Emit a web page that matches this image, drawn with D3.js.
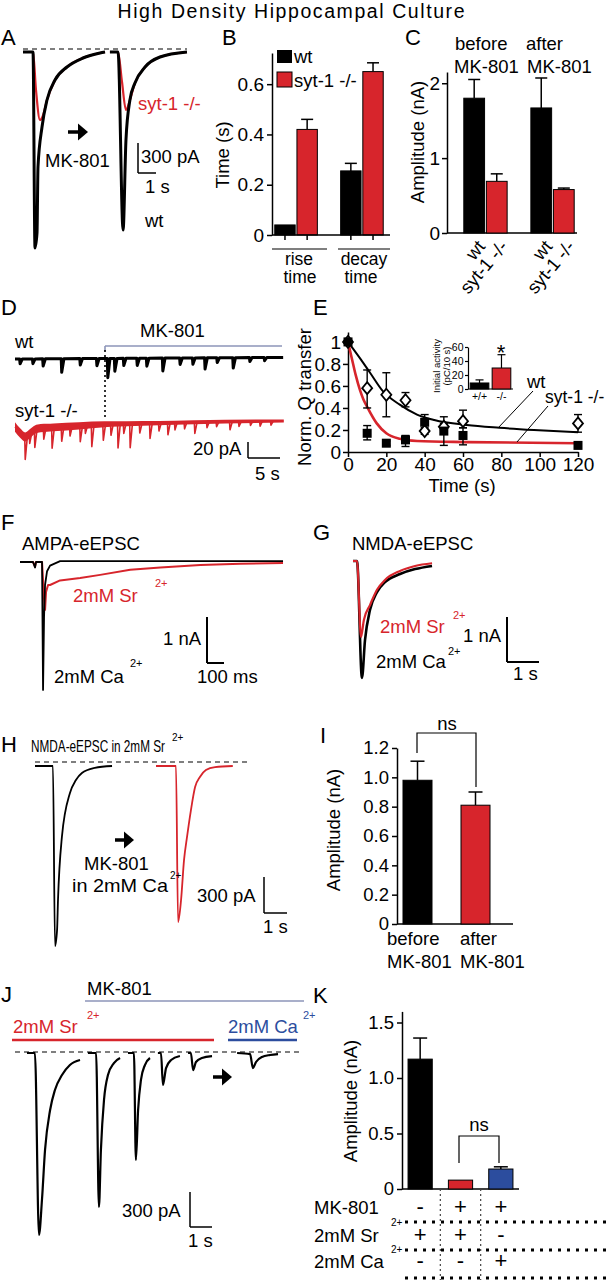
<!DOCTYPE html>
<html><head><meta charset="utf-8">
<script src="https://cdn.jsdelivr.net/npm/d3@7"></script>
<style>
body{margin:0;background:#fff}
svg{display:block}
text{font-family:"Liberation Sans",Arial,sans-serif}
</style>
</head><body>
<svg id="c" width="607" height="1280"></svg>
<script>
const RED = "#d7252c", BLUE = "#2c4d9e", LAV = "#8c95b8";
const FONT = '"Liberation Sans", Arial, sans-serif';

// ---------- Panel A: example traces [time s, current pA] ----------
const aWt1 = [[0,0],[0.556,0],[0.667,-1960],[0.778,-1810],[0.833,-1150],[1.056,-750],[1.333,-480],[1.778,-280],[2.444,-150],[3.333,-60],[4.278,-10],[4.556,0]];
const aKo1 = [[0,0],[0.556,0],[0.722,-380],[0.944,-680],[1.1,-640],[1.333,-480],[1.778,-280],[2.444,-150],[3.333,-60],[4.278,-10],[4.556,0]];
const aWt2 = [[4.83,0],[5.28,0],[5.56,-1780],[5.72,-880],[5.94,-480],[6.22,-310],[6.78,-150],[7.61,-50],[9.11,0]];
const aKo2 = [[4.83,0],[5.28,0],[5.5,-300],[5.72,-580],[5.94,-480],[6.22,-310],[6.78,-150],[7.61,-50],[9.11,0]];

// ---------- Panel B ----------
const bGroups = ["rise","decay"];
const bWt = [0.04, 0.255], bWtErr = [0.04, 0.285];
const bKo = [0.42, 0.65],  bKoErr = [0.46, 0.685];
const bTicks = [0, 0.2, 0.4, 0.6];

// ---------- Panel C ----------
const cGroups = ["before","after"];
const cWt = [1.8, 1.67], cWtErr = [2.05, 2.07];
const cKo = [0.69, 0.58], cKoErr = [0.79, 0.6];
const cTicks = [0, 1, 2];

// ---------- Panel D: minis [time s, amplitude pA] ----------
const dWtBase = [[0,0],[42,2]];
const dWtEvents = [[0.8,6],[2.8,6],[4.4,9],[7.3,17],[10.2,8],[12.8,9],[14.5,24],[15.6,16],[17.0,9],[19.1,9],[20.6,10],[23.1,16],[25.8,8],[27.8,8],[29.7,14],[31.6,6],[34.1,13],[36.7,5],[39,4]];
const dKoCenter = [[0,-7.5],[0.8,-15],[1.6,-20],[2.3,-16],[3.1,-11],[4,-9],[6,-8],[10,-6],[14,-4],[20,-3],[28,-1.5],[42,0]];
const dKoWidth = [[0,12],[5,10],[10,9],[15,7],[25,5],[42,4]];
const dKoEvents = [[1.6,28],[2.3,12],[3.1,22],[4.5,14],[5.8,26],[7.3,18],[8.6,12],[10.2,20],[11,10],[12,27],[13.8,20],[15,14],[16.1,30],[17,12],[18,30],[19.5,12],[21.1,19],[22.5,10],[23.9,15],[25,9],[26.5,8],[28.1,14],[30,7],[31.5,6],[33.6,10],[35,6],[36.8,5],[38.3,6],[40,5]];

// ---------- Panel E ----------
const eTimes = [0,10,20,30,40,50,60,120];
const eWt   = [1,0.58,0.52,0.47,0.19,0.23,0.28,0.26];
const eWtHi = [1,0.745,0.72,0.54,0.22,0.26,0.38,0.34];
const eWtLo = [1,0.40,0.32,0.41,0.16,0.20,0.22,0.18];
const eKo   = [1,0.17,0.08,0.11,0.27,0.19,0.15,0.06];
const eKoHi = [1,0.24,0.10,0.15,0.34,0.32,0.22,0.06];
const eKoLo = [1,0.11,0.06,0.05,0.20,0.06,0.065,0.06];
const eWtFit = [[0,1],[6.3,0.85],[11.5,0.72],[18.3,0.55],[27,0.43],[36,0.34],[45,0.29],[62,0.245],[79,0.22],[97,0.2],[120,0.18]];
const eKoFit = [[0,1],[2,0.85],[4,0.7],[6.3,0.56],[8,0.48],[10,0.41],[15,0.26],[20,0.17],[27,0.12],[36,0.1],[62,0.09],[120,0.08]];
const eXTicks = [0,20,40,60,80,100,120];
const eYTicks = [0,0.2,0.4,0.6,0.8,1];
// inset
const inCats = ["+/+","-/-"];
const inVals = [8.6, 30], inErr = [13, 49];
const inTicks = [0,20,40,60];

// ---------- Panel F: [ms, nA] ----------
const fCa = [[0,0],[78,0],[90,-0.12],[96,0],[132,0],[138,-2.78],[144,-1.2],[150,-0.5],[162,-0.2],[180,-0.08],[240,0.02],[1575,0.02]];
const fSr = [[0,0],[78,0],[90,-0.1],[96,0],[132,0],[144,-0.8],[150,-1.04],[156,-0.65],[168,-0.5],[180,-0.5],[240,-0.4],[360,-0.35],[480,-0.28],[660,-0.17],[840,-0.12],[1080,-0.065],[1320,-0.04],[1575,-0.02]];

// ---------- Panel G: [s, nA] ----------
const gCa = [[0,0],[0.125,0],[0.28,-2.6],[0.375,-1.76],[0.53,-1.09],[0.75,-0.69],[1.0,-0.47],[1.47,-0.29],[1.94,-0.18],[2.47,-0.11]];
const gSr = [[0,0],[0.125,0],[0.25,-1.69],[0.34,-1.31],[0.53,-0.98],[0.75,-0.64],[1.0,-0.42],[1.47,-0.22],[1.94,-0.11],[2.47,-0.05]];

// ---------- Panel H: [s, pA] ----------
const hBefore = [[0,0],[0.78,0],[0.87,-1565],[0.96,-1425],[1.0,-1165],[1.17,-617],[1.52,-235],[1.78,-122],[2.04,-61],[2.6,-17],[3.35,0]];
const hAfter = [[5.26,0],[6.13,0],[6.22,-1357],[6.35,-1165],[6.48,-817],[6.61,-617],[6.78,-383],[6.96,-183],[7.17,-96],[7.43,-35],[7.83,-9],[8.6,0]];

// ---------- Panel I ----------
const iCats = ["before","after"];
const iVals = [0.98, 0.81], iErr = [1.11, 0.9];
const iTicks = [0,0.2,0.4,0.6,0.8,1.0,1.2];

// ---------- Panel J: [s, pA] ----------
const jT1 = [[0,0],[0.36,0],[0.545,-1560],[0.68,-1260],[0.82,-831],[1.05,-489],[1.27,-317],[1.59,-189],[1.95,-103],[2.41,-60]];
const jT2 = [[2.77,0],[3.14,0],[3.27,-1320],[3.36,-831],[3.5,-403],[3.68,-189],[3.95,-86],[4.23,-43]];
const jT3 = [[4.59,0],[4.86,0],[4.95,-917],[5.05,-489],[5.18,-231],[5.36,-103],[5.59,-43]];
const jT4 = [[5.95,0],[6.09,0],[6.18,-274],[6.32,-129],[6.55,-60],[6.95,-26]];
const jT5 = [[7.32,0],[7.45,0],[7.55,-146],[7.68,-77],[7.95,-43],[8.41,-26]];
const jT6 = [[9.55,0],[10.14,-9],[10.27,-129],[10.41,-77],[10.68,-34],[11.05,-17],[11.41,-9]];

// ---------- Panel K ----------
const kCats = ["ctrl","sr","ca"];
const kVals = [1.17, 0.08, 0.18], kErr = [1.36, 0.08, 0.2];
const kColors = ["#000", RED, BLUE];
const kTicks = [0,0.5,1.0,1.5];
const kRowLabels = ["MK-801","2mM Sr","2mM Ca"];
const kMK = ["-","+","+"], kSr = ["+","+","-"], kCa = ["-","-","+"];

// ================= drawing helpers =================
const svg = d3.select("#c");
function txt(x,y,s,o={}) {
  const t = svg.append("text").attr("x",x).attr("y",y).text(s)
    .attr("font-size",o.fs||18.5).attr("fill",o.c||"#000").attr("text-anchor",o.a||"start");
  if (o.r!=null) t.attr("transform",`rotate(${o.r},${x},${y})`);
  if (o.tl) t.attr("textLength",o.tl).attr("lengthAdjust",o.la||"spacingAndGlyphs");
  if (o.ff) t.attr("font-family",o.ff);
  return t;
}
function ln(x1,y1,x2,y2,o={}) {
  const l = svg.append("line").attr("x1",x1).attr("y1",y1).attr("x2",x2).attr("y2",y2)
    .attr("stroke",o.c||"#000").attr("stroke-width",o.w||1.5);
  if (o.d) l.attr("stroke-dasharray",o.d);
  return l;
}
function arrow(x1,x2,y) {
  ln(x1,y,x2-8,y,{w:3.5});
  svg.append("path").attr("d",`M${x2-10},${y-8.5}L${x2},${y}L${x2-10},${y+8.5}Z`).attr("fill","#000");
}
function trace(pts,sx,sy,c,w,curve) {
  svg.append("path").datum(pts)
    .attr("d",d3.line().x(d=>sx(d[0])).y(d=>sy(d[1])).curve(curve||d3.curveMonotoneX))
    .attr("fill","none").attr("stroke",c).attr("stroke-width",w).attr("stroke-linejoin","round");
}
function styleAxis(g,fs) {
  g.attr("font-family",FONT);
  g.selectAll("text").attr("font-size",fs).attr("fill","#000");
  g.selectAll(".domain").attr("stroke","#000").attr("stroke-width",1.5);
  g.selectAll(".tick line").attr("stroke","#000").attr("stroke-width",1.5);
}
function errBar(cx,y0,y1,cap,w) {
  if (Math.abs(y0-y1)<0.5) return;
  ln(cx,y0,cx,y1,{w:w||1.5});
  ln(cx-cap/2,y1,cx+cap/2,y1,{w:w||1.5});
}
const fmt1 = d => d===0 ? "0" : d3.format(".1f")(d);

// ================= Title =================
txt(291,18,"High Density Hippocampal Culture",{a:"middle",fs:19.5,ff:'"Open Sans",sans-serif',tl:347,la:"spacing"});

// ================= Panel A =================
{
  txt(1,45,"A",{fs:22});
  const sx = d3.scaleLinear().domain([0,1]).range([23,41]);
  const sy = d3.scaleLinear().domain([0,-1000]).range([52,152]);
  ln(23,49,187,49,{w:1.2,d:"5,4"});
  trace(aKo1,sx,sy,RED,2.2);
  trace(aKo2,sx,sy,RED,2.2);
  trace(aWt1,sx,sy,"#000",3);
  trace(aWt2,sx,sy,"#000",3);
  txt(138,110,"syt-1 -/-",{c:RED});
  arrow(68,88,132);
  txt(45,167,"MK-801");
  ln(138,143,138,173); ln(138,173,156,173);
  txt(141,163,"300 pA");
  txt(145,193,"1 s");
  txt(145,227,"wt");
}

// ================= Panel B =================
{
  txt(222,45,"B",{fs:22});
  const y = d3.scaleLinear().domain([0,0.724]).range([235,53]);
  const x0 = d3.scaleBand().domain(bGroups).range([273,385]).paddingInner(0.3);
  const x1 = d3.scaleBand().domain(["wt","ko"]).range([0,x0.bandwidth()]).padding(0.08);
  const g = svg.append("g").attr("transform","translate(272,0)")
    .call(d3.axisLeft(y).tickValues(bTicks).tickFormat(fmt1).tickSize(5).tickPadding(3).tickSizeOuter(0));
  styleAxis(g,19);
  bGroups.forEach((gr,i)=>{
    [["wt",bWt,bWtErr,"#000"],["ko",bKo,bKoErr,RED]].forEach(([k,v,e,c])=>{
      const xx = x0(gr)+x1(k), w = x1.bandwidth();
      errBar(xx+w/2,y(v[i]),y(e[i]),12);
      svg.append("rect").attr("x",xx).attr("y",y(v[i])).attr("width",w).attr("height",y(0)-y(v[i]))
        .attr("fill",c).attr("stroke","#000").attr("stroke-width",1);
      ln(xx+w/2,235,xx+w/2,240);
    });
  });
  ln(272,235,390,235);
  ln(272,249,327,249,{w:1.2}); ln(338,249,390,249,{w:1.2});
  txt(299,265,"rise",{a:"middle",fs:17.5}); txt(300,283,"time",{a:"middle",fs:17.5});
  txt(364,265,"decay",{a:"middle",fs:17.5}); txt(361,283,"time",{a:"middle",fs:17.5});
  txt(229,155,"Time (s)",{a:"middle",r:-90});
  svg.append("rect").attr("x",277).attr("y",50).attr("width",15).attr("height",13).attr("fill","#000");
  txt(294,63,"wt");
  svg.append("rect").attr("x",277).attr("y",72).attr("width",15).attr("height",15).attr("fill",RED).attr("stroke","#000");
  txt(294,87,"syt-1 -/-");
}

// ================= Panel C =================
{
  txt(405,45,"C",{fs:22});
  const y = d3.scaleLinear().domain([0,2.15]).range([233,72]);
  const x0 = d3.scaleBand().domain(cGroups).range([462,576]).paddingInner(0.3);
  const x1 = d3.scaleBand().domain(["wt","ko"]).range([0,x0.bandwidth()]).padding(0.08);
  const g = svg.append("g").attr("transform","translate(447,0)")
    .call(d3.axisLeft(y).tickValues(cTicks).tickFormat(d3.format("d")).tickSize(5).tickPadding(2).tickSizeOuter(0));
  styleAxis(g,19);
  ln(447,233,577,233);
  cGroups.forEach((gr,i)=>{
    [["wt",cWt,cWtErr,"#000","wt"],["ko",cKo,cKoErr,RED,"syt-1 -/-"]].forEach(([k,v,e,c,lab])=>{
      const xx = x0(gr)+x1(k), w = x1.bandwidth();
      errBar(xx+w/2,y(v[i]),y(e[i]),12);
      svg.append("rect").attr("x",xx).attr("y",y(v[i])).attr("width",w).attr("height",y(0)-y(v[i]))
        .attr("fill",c).attr("stroke","#000").attr("stroke-width",1);
      txt(xx+w/2+12,247,lab,{a:"end",r:-50});
    });
  });
  txt(455,50,"before"); txt(454,73,"MK-801");
  txt(526,50,"after"); txt(527,73,"MK-801");
  txt(424,142,"Amplitude (nA)",{a:"middle",r:-90});
}

// ================= Panel D =================
{
  txt(1,315,"D",{fs:22});
  const sx = d3.scaleLinear().domain([0,5]).range([15,47]);
  const syW = d3.scaleLinear().domain([0,-20]).range([359,375]);
  const syK = d3.scaleLinear().domain([0,-20]).range([421,437]);
  const baseW = d3.scaleLinear().domain(dWtBase.map(d=>d[0])).range(dWtBase.map(d=>d[1]));
  const pts = [[0,baseW(0)]];
  dWtEvents.forEach(([t,a])=>{ pts.push([t-0.08,baseW(t-0.08)],[t,baseW(t)-a],[t+0.35,baseW(t+0.35)]); });
  pts.push([41.9,baseW(41.9)]);
  trace(pts,sx,syW,"#000",3,d3.curveLinear);
  const cen = d3.scaleLinear().domain(dKoCenter.map(d=>d[0])).range(dKoCenter.map(d=>d[1]));
  const wid = d3.scaleLinear().domain(dKoWidth.map(d=>d[0])).range(dKoWidth.map(d=>d[1]));
  const ts = dKoCenter.concat(dKoWidth).map(d=>d[0]).sort((a,b)=>a-b).filter((d,i,a)=>i===0||d!==a[i-1]);
  svg.append("path").datum(ts)
    .attr("d",d3.area().x(t=>sx(t)).y0(t=>syK(cen(t)-wid(t)/2)).y1(t=>syK(cen(t)+wid(t)/2)).curve(d3.curveMonotoneX))
    .attr("fill",RED);
  const kp = [[0,cen(0)]];
  dKoEvents.forEach(([t,a])=>{ kp.push([t-0.08,cen(t-0.08)],[t,cen(t)-a],[t+0.35,cen(t+0.35)]); });
  kp.push([41.9,cen(41.9)]);
  trace(kp,sx,syK,RED,1.6,d3.curveLinear);
  txt(140,337,"MK-801");
  ln(105,346,282,346,{c:LAV,w:1.6}); ln(105,346,105,351,{c:LAV,w:1.6});
  txt(15,348,"wt");
  txt(15,417,"syt-1 -/-");
  ln(105,350,105,420,{w:1.6,d:"2,3"});
  txt(193,455,"20 pA");
  ln(248,442,248,458); ln(248,458,280,458);
  txt(255,480,"5 s");
}

// ================= Panel E =================
{
  txt(313,315,"E",{fs:22});
  const x = d3.scaleLinear().domain([0,120]).range([348,578]);
  const y = d3.scaleLinear().domain([0,1.09]).range([452,332]);
  const gx = svg.append("g").attr("transform","translate(0,452)")
    .call(d3.axisBottom(x).tickValues(eXTicks).tickSize(5).tickPadding(1).tickSizeOuter(0));
  styleAxis(gx,19);
  const gy = svg.append("g").attr("transform","translate(348,0)")
    .call(d3.axisLeft(y).tickValues(eYTicks).tickFormat(d=>d===0||d===1?String(d):d3.format(".1f")(d)).tickSize(5).tickPadding(2).tickSizeOuter(0));
  styleAxis(gy,19);
  txt(462,492,"Time (s)",{a:"middle"});
  txt(311,397,"Norm. Q transfer",{a:"middle",r:-90});
  trace(eWtFit,x,y,"#000",2);
  trace(eKoFit,x,y,RED,2.6);
  eTimes.forEach((t,i)=>{
    if (t===0) return;
    errBar(x(t),y(eWt[i]),y(eWtHi[i]),8,1.4); errBar(x(t),y(eWt[i]),y(eWtLo[i]),8,1.4);
    errBar(x(t),y(eKo[i]),y(eKoHi[i]),8,1.4); errBar(x(t),y(eKo[i]),y(eKoLo[i]),8,1.4);
  });
  eTimes.forEach((t,i)=>{
    svg.append("path").attr("d",`M${x(t)},${y(eWt[i])-6}l5,6l-5,6l-5,-6Z`).attr("fill","#fff").attr("stroke","#000").attr("stroke-width",1.8);
  });
  eTimes.forEach((t,i)=>{
    svg.append("rect").attr("x",x(t)-4.5).attr("y",y(eKo[i])-4.5).attr("width",9).attr("height",9).attr("fill","#000");
  });
  // inset
  const ix = d3.scaleBand().domain(inCats).range([468,513]).paddingInner(0.15).paddingOuter(0.1);
  const iy = d3.scaleLinear().domain([0,60]).range([389,347]);
  const gi = svg.append("g").attr("transform","translate(468,0)")
    .call(d3.axisLeft(iy).tickValues(inTicks).tickSize(3).tickPadding(1.5).tickSizeOuter(0));
  styleAxis(gi,10.5); gi.selectAll(".domain,.tick line").attr("stroke-width",1.2);
  ln(468,389,513,389,{w:1.2});
  inCats.forEach((c,i)=>{
    const xx = ix(c), w = ix.bandwidth();
    errBar(xx+w/2,iy(inVals[i]),iy(inErr[i]),8,1.2);
    svg.append("rect").attr("x",xx).attr("y",iy(inVals[i])).attr("width",w).attr("height",iy(0)-iy(inVals[i]))
      .attr("fill",i? RED:"#000").attr("stroke","#000").attr("stroke-width",1);
    txt(xx+w/2,400,c,{a:"middle",fs:10.5});
  });
  txt(501,360,"*",{a:"middle",fs:22});
  txt(440,366,"Initial activity",{a:"middle",r:-90,fs:9.5});
  txt(450,366,"(pC/10 s)",{a:"middle",r:-90,fs:9.5});
  txt(527,388,"wt");
  txt(545,403,"syt-1 -/-",{fs:17.5});
  ln(533,391,498,428,{w:1}); ln(548,406,517,442,{w:1});
}

// ================= Panel F =================
{
  txt(1,530,"F",{fs:22});
  txt(22,550,"AMPA-eEPSC");
  const sx = d3.scaleLinear().domain([0,100]).range([20,36.7]);
  const sy = d3.scaleLinear().domain([0,-1]).range([562,608]);
  trace(fSr,sx,sy,RED,2,d3.curveLinear);
  trace(fCa,sx,sy,"#000",1.8,d3.curveLinear);
  txt(73,602,"2mM Sr",{c:RED}); txt(155,587,"2+",{c:RED,fs:11});
  txt(163,645,"1 nA");
  ln(207,617,207,663,{w:2}); ln(207,663,224,663,{w:2});
  txt(54,683,"2mM Ca"); txt(130,667,"2+",{fs:11});
  txt(197,683,"100 ms");
}

// ================= Panel G =================
{
  txt(313,540,"G",{fs:22});
  txt(352,550,"NMDA-eEPSC");
  const sx = d3.scaleLinear().domain([0,1]).range([353,385]);
  const sy = d3.scaleLinear().domain([0,-1]).range([561,606]);
  trace(gCa,sx,sy,"#000",2.6);
  trace(gSr,sx,sy,RED,2.2);
  txt(380,633,"2mM Sr",{c:RED}); txt(453,619,"2+",{c:RED,fs:11});
  txt(463,642,"1 nA");
  ln(507,617,507,662,{w:2}); ln(507,662,539,662,{w:2});
  txt(376,668,"2mM Ca"); txt(448,655,"2+",{fs:11});
  txt(513,680,"1 s");
}

// ================= Panel H =================
{
  txt(1,752,"H",{fs:22});
  txt(31,752,"NMDA-eEPSC in 2mM Sr",{fs:17,tl:134});
  txt(172,741,"2+",{fs:10});
  ln(35,762,247,762,{w:1.2,d:"5,4"});
  const sx = d3.scaleLinear().domain([0,1]).range([35,58]);
  const sy = d3.scaleLinear().domain([0,-300]).range([766,800.5]);
  trace(hBefore,sx,sy,"#000",1.8);
  trace(hAfter,sx,sy,RED,1.8);
  arrow(115,134,840);
  txt(84,870,"MK-801");
  txt(72,892,"in 2mM Ca",{tl:96}); txt(170,879,"2+",{fs:10});
  txt(197,902,"300 pA");
  ln(264,877,264,913); ln(264,913,287,913);
  txt(263,933,"1 s");
}

// ================= Panel I =================
{
  txt(320,743,"I",{fs:22});
  const y = d3.scaleLinear().domain([0,1.2]).range([924,748]);
  const x = d3.scaleBand().domain(iCats).range([397,496]).paddingInner(0.5).paddingOuter(0.1034);
  const g = svg.append("g").attr("transform","translate(397,0)")
    .call(d3.axisLeft(y).tickValues(iTicks).tickFormat(fmt1).tickSize(5).tickPadding(3).tickSizeOuter(0));
  styleAxis(g,18.5);
  ln(397,924,513,924);
  iCats.forEach((c,i)=>{
    const xx = x(c), w = x.bandwidth();
    errBar(xx+w/2,y(iVals[i]),y(iErr[i]),14);
    svg.append("rect").attr("x",xx).attr("y",y(iVals[i])).attr("width",w).attr("height",y(0)-y(iVals[i]))
      .attr("fill",i?RED:"#000").attr("stroke","#000").attr("stroke-width",1);
  });
  svg.append("path").attr("d","M417,753V733H476V787").attr("fill","none").attr("stroke","#000").attr("stroke-width",1.2);
  txt(447,730,"ns",{a:"middle"});
  txt(340,830,"Amplitude (nA)",{a:"middle",r:-90});
  txt(x("before")-16,945,"before"); txt(x("before")-16,968,"MK-801");
  txt(x("after")-1,945,"after"); txt(x("after")-1,968,"MK-801");
}

// ================= Panel J =================
{
  txt(1,1002,"J",{fs:22});
  txt(87,995,"MK-801");
  ln(85,1001,304,1001,{c:LAV,w:1.6});
  txt(13,1033,"2mM Sr",{c:RED}); txt(87,1019,"2+",{c:RED,fs:11});
  ln(12,1040,214,1040,{c:RED,w:2.6});
  txt(228,1033,"2mM Ca",{c:BLUE}); txt(303,1019,"2+",{c:BLUE,fs:11});
  ln(228,1040,297,1040,{c:BLUE,w:2.6});
  ln(15,1052,300,1052,{w:1.2,d:"5,4"});
  const sx = d3.scaleLinear().domain([0,1]).range([27,49]);
  const sy = d3.scaleLinear().domain([0,-300]).range([1053,1088]);
  [jT1,jT2,jT3,jT4,jT5,jT6].forEach(t=>trace(t,sx,sy,"#000",2.2));
  arrow(213,232,1077);
  txt(122,1217,"300 pA");
  ln(190,1192,190,1227); ln(190,1227,212,1227);
  txt(188,1247,"1 s");
}

// ================= Panel K =================
{
  txt(313,1003,"K",{fs:22});
  const y = d3.scaleLinear().domain([0,1.6]).range([1189,1011.4]);
  const x = d3.scaleBand().domain(kCats).range([402,519]).paddingInner(0.4).paddingOuter(0.15);
  const g = svg.append("g").attr("transform","translate(402,0)")
    .call(d3.axisLeft(y).tickValues(kTicks).tickFormat(fmt1).tickSize(5).tickPadding(3).tickSizeOuter(0));
  styleAxis(g,18.5);
  ln(402,1189,519,1189);
  kCats.forEach((c,i)=>{
    const xx = x(c), w = x.bandwidth();
    errBar(xx+w/2,y(kVals[i]),y(kErr[i]),14);
    svg.append("rect").attr("x",xx).attr("y",y(kVals[i])).attr("width",w).attr("height",y(0)-y(kVals[i]))
      .attr("fill",kColors[i]).attr("stroke","#000").attr("stroke-width",1);
  });
  svg.append("path").attr("d","M459,1163V1136H499V1163").attr("fill","none").attr("stroke","#000").attr("stroke-width",1.2);
  txt(479,1131,"ns",{a:"middle"});
  txt(357,1101,"Amplitude (nA)",{a:"middle",r:-90});
  const sep = [x("ctrl")+x.bandwidth()+(x("sr")-x("ctrl")-x.bandwidth())/2, x("sr")+x.bandwidth()+(x("ca")-x("sr")-x.bandwidth())/2];
  sep.forEach(sx=>ln(sx,1189,sx,1280,{w:1.2,d:"2,3",c:"#444"}));
  const rowsY = [1214,1242,1268];
  kRowLabels.forEach((l,r)=>txt(314,rowsY[r],l));
  txt(391,1226,"2+",{fs:10}); txt(391,1253,"2+",{fs:10});
  [kMK,kSr,kCa].forEach((row,r)=>{
    row.forEach((s,i)=>txt(x(kCats[i])+x.bandwidth()/2,rowsY[r],s,{a:"middle",fs:22}));
  });
  [1222,1250,1278].forEach(yy=>ln(405,yy,607,yy,{w:3,d:"3,6"}));
}
</script>
</body></html>
